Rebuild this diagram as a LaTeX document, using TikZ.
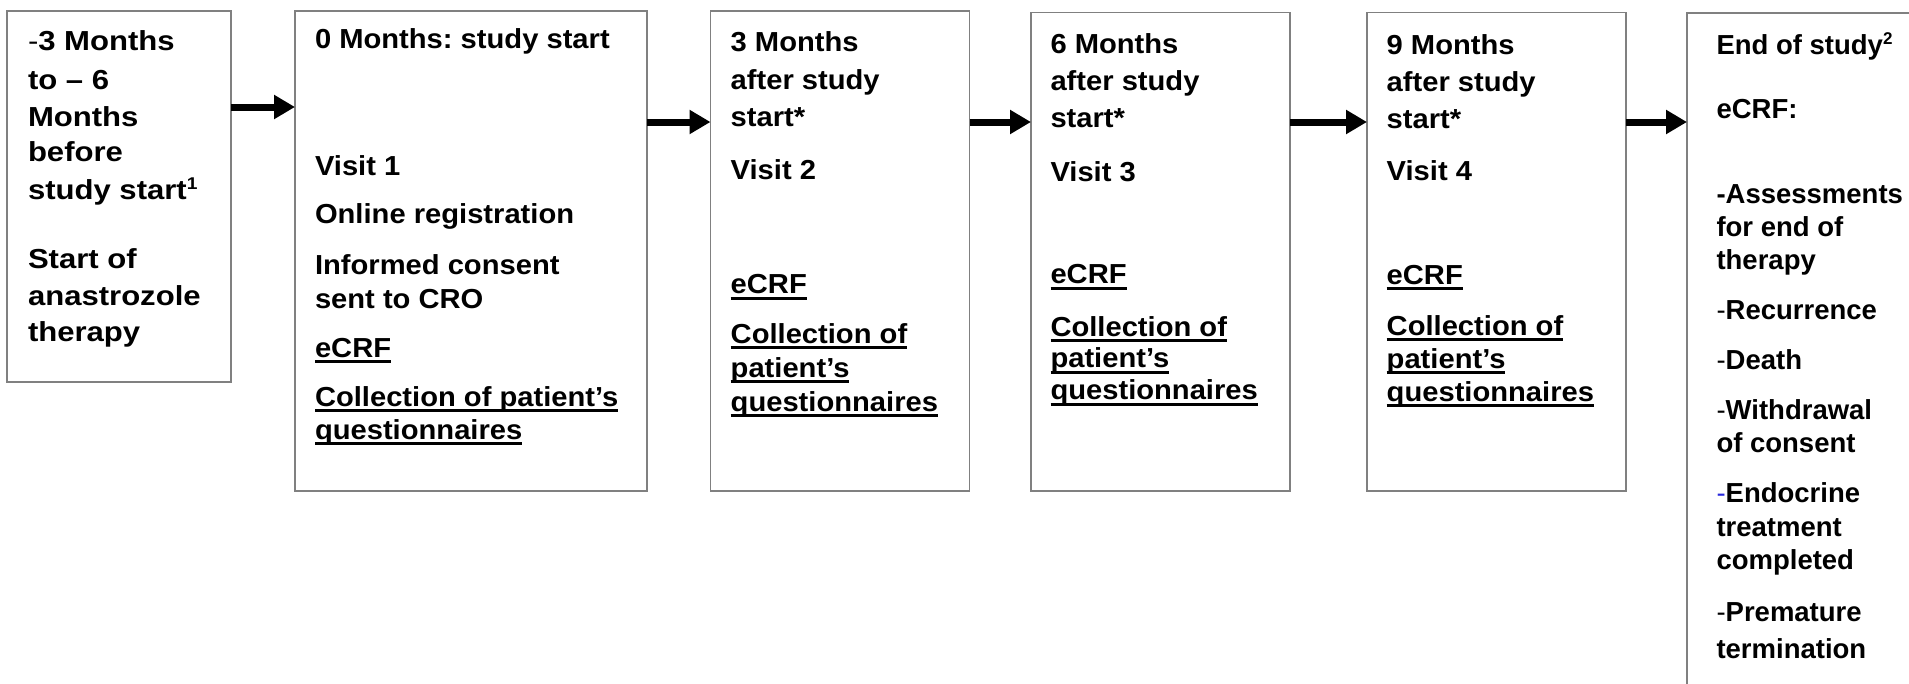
\documentclass[tikz,border=0pt]{standalone}
\usepackage{fontspec}
\setmainfont{Liberation Sans}[FakeStretch=1.06]
\newfontfamily\widesans{Liberation Sans}[FakeStretch=1.13]
\newfontfamily\plainsans{Liberation Sans}[FakeStretch=1.0]
\usetikzlibrary{arrows.meta}
\definecolor{boxgray}{RGB}{128,128,128}
\definecolor{dashblue}{RGB}{40,40,220}
\newcounter{lnum}
\newcommand\tline[4][txt]{\stepcounter{lnum}\node[#1] (t\thelnum) at (#2,#3) {#4};}
\newcommand\ulx[1]{\setbox0\hbox{#1}\rlap{\rule[-6pt]{\wd0}{2.8pt}}\box0}
\newcommand\supx[1]{\raisebox{9.5pt}{\fontsize{17}{17}\selectfont #1}}
\newcommand\lightdash{{\mdseries -}}
\frenchspacing
\begin{document}
\begin{tikzpicture}[x=1pt,y=-1pt,
  visitbox/.style={draw=boxgray,line width=1.3pt,rectangle,inner sep=0pt,outer sep=0pt,anchor=north west},
  txt/.style={anchor=base west,inner sep=0pt,outer sep=0pt,font=\fontsize{27.5}{33}\selectfont\bfseries\frenchspacing},
  txtwide/.style={txt,font=\widesans\fontsize{27.5}{33}\selectfont\bfseries\frenchspacing},
  txtplain/.style={txt,font=\plainsans\fontsize{27.5}{33}\selectfont\bfseries\frenchspacing},
  arr/.style={line width=7pt,-{Triangle[length=21pt,width=23pt]}}]
\useasboundingbox (0,0) rectangle (1909,683);

% boxes
\node[visitbox,minimum width=224pt,minimum height=371pt] (b1) at (7,11) {};
\node[visitbox,minimum width=352pt,minimum height=480pt] (b2) at (295,11) {};
\node[visitbox,minimum width=259pt,minimum height=480pt] (b3) at (710.5,11) {};
\node[visitbox,minimum width=259pt,minimum height=478.5pt] (b4) at (1031,12.5) {};
\node[visitbox,minimum width=259pt,minimum height=478.5pt] (b5) at (1367,12.5) {};
\begin{scope}
\clip (0,0) rectangle (1909,683);
\node[visitbox,minimum width=300pt,minimum height=720pt] (b6) at (1687,13) {};
\end{scope}

% arrows
\coordinate (ya) at (0,107);
\coordinate (yb) at (0,122);
\draw[arr] (b1.east |- ya) -- (b2.west |- ya);
\draw[arr] (b2.east |- yb) -- (b3.west |- yb);
\draw[arr] (b3.east |- yb) -- (b4.west |- yb);
\draw[arr] (b4.east |- yb) -- (b5.west |- yb);
\draw[arr] (b5.east |- yb) -- (b6.west |- yb);

% box 1
\tline[txtwide]{28}{50.7}{\lightdash3 Months}
\tline[txtwide]{28}{89}{to – 6}
\tline[txtwide]{28}{126}{Months}
\tline[txtwide]{28}{161}{before}
\tline[txtwide]{28}{199}{study start\supx{1}}
\tline[txtwide]{28}{268}{Start of}
\tline[txtwide]{28}{305}{anastrozole}
\tline[txtwide]{28}{341.7}{therapy}

% box 2
\tline{315}{48.3}{0 Months: study start}
\tline{315}{175.5}{Visit 1}
\tline{315}{223.5}{Online registration}
\tline{315}{274}{Informed consent}
\tline{315}{308.3}{sent to CRO}
\tline{315}{357}{\ulx{eCRF}}
\tline{315}{406}{\ulx{Collection of patient’s}}
\tline{315}{439}{\ulx{questionnaires}}

% box 3
\tline{730.7}{51.7}{3 Months}
\tline{730.7}{89.3}{after study}
\tline{730.7}{126.7}{start*}
\tline{730.7}{179}{Visit 2}
\tline{730.7}{293.5}{\ulx{eCRF}}
\tline{730.7}{343}{\ulx{Collection of}}
\tline{730.7}{377}{\ulx{patient’s}}
\tline{730.7}{411}{\ulx{questionnaires}}

% box 4
\tline{1050.5}{53.3}{6 Months}
\tline{1050.5}{90.7}{after study}
\tline{1050.5}{127.7}{start*}
\tline{1050.5}{181}{Visit 3}
\tline{1050.5}{283.5}{\ulx{eCRF}}
\tline{1050.5}{336}{\ulx{Collection of}}
\tline{1050.5}{367.5}{\ulx{patient’s}}
\tline{1050.5}{399.5}{\ulx{questionnaires}}

% box 5
\tline{1386.7}{54}{9 Months}
\tline{1386.7}{91.3}{after study}
\tline{1386.7}{128.5}{start*}
\tline{1386.7}{180.5}{Visit 4}
\tline{1386.7}{284}{\ulx{eCRF}}
\tline{1386.7}{335}{\ulx{Collection of}}
\tline{1386.7}{368}{\ulx{patient’s}}
\tline{1386.7}{401}{\ulx{questionnaires}}

% box 6
\tline[txtplain]{1716.5}{54}{End of study\supx{2}}
\tline[txtplain]{1716.5}{118.5}{eCRF:}
\tline[txtplain]{1716.5}{203}{-Assessments}
\tline[txtplain]{1716.5}{236.5}{for end of}
\tline[txtplain]{1716.5}{269.5}{therapy}
\tline[txtplain]{1716.5}{319}{\lightdash Recurrence}
\tline[txtplain]{1716.5}{369.5}{\lightdash Death}
\tline[txtplain]{1716.5}{419.5}{\lightdash Withdrawal}
\tline[txtplain]{1716.5}{452.5}{of consent}
\tline[txtplain]{1716.5}{502}{\textcolor{dashblue}{\lightdash}Endocrine}
\tline[txtplain]{1716.5}{536}{treatment}
\tline[txtplain]{1716.5}{569}{completed}
\tline[txtplain]{1716.5}{621}{\lightdash Premature}
\tline[txtplain]{1716.5}{658.5}{termination}
\end{tikzpicture}
\end{document}
